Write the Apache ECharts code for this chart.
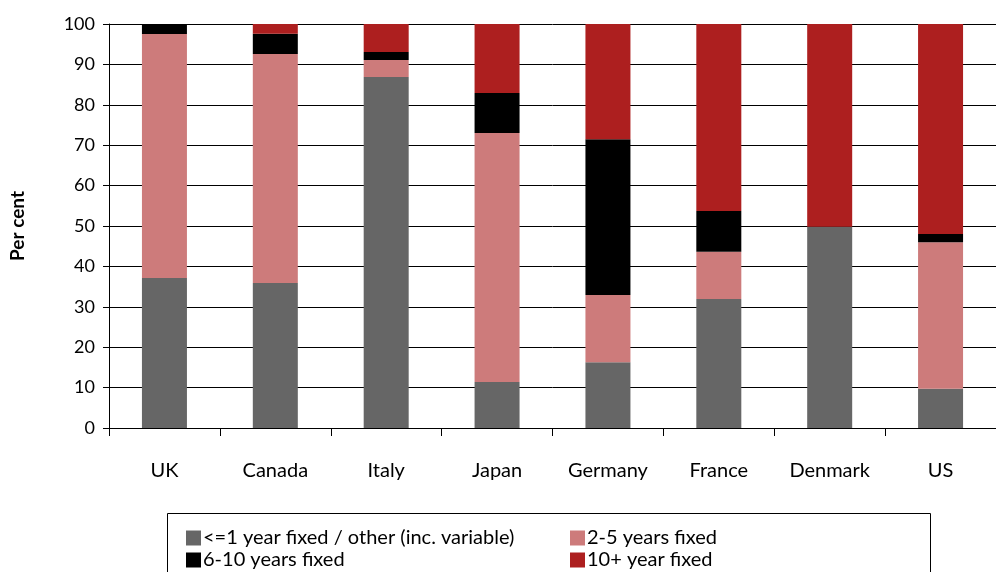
<!DOCTYPE html>
<html><head><meta charset="utf-8">
<script src="https://cdn.jsdelivr.net/npm/echarts@6/dist/echarts.min.js"></script>
<style>html,body{margin:0;padding:0;background:#fff}#c{width:996px;height:572px}</style>
</head><body><div id="c"></div>
<script>
const categories = ['UK','Canada','Italy','Japan','Germany','France','Denmark','US'];
const seriesNames = ['<=1 year fixed / other (inc. variable)','2-5 years fixed','6-10 years fixed','10+ year fixed'];
const shortTerm = [37.1, 35.9, 86.9, 11.4, 16.3, 31.9, 49.8, 9.7];
const twoToFive = [60.4, 56.7, 4.2, 61.6, 16.6, 11.7, 0, 36.3];
const sixToTen  = [2.5, 5.0, 2.0, 9.9, 38.6, 10.1, 0, 2.0];
const tenPlus   = [0, 2.4, 6.9, 17.1, 28.5, 46.3, 50.2, 52.0];
const yTicks = [0,10,20,30,40,50,60,70,80,90,100];
const colors = ['#666666','#CD7B7B','#000000','#AD1F1F'];
const FONT = 'Lato';

const chart = echarts.init(document.getElementById('c'));
const dataSets = [shortTerm, twoToFive, sixToTen, tenPlus];
const legendPos = [[186,528],[570,528],[186,550],[570,550]];
chart.setOption({
  animation:false,
  textStyle:{fontFamily:FONT},
  grid:{left:108,right:0,top:24,bottom:144,containLabel:false},
  xAxis:{type:'category',data:categories,boundaryGap:true,
    axisLine:{show:true,lineStyle:{color:'#000',width:1}},
    axisTick:{show:true,alignWithLabel:false,length:8,lineStyle:{color:'#000'}},
    axisLabel:{color:'#000',fontSize:20,margin:33,fontFamily:FONT}},
  yAxis:{type:'value',min:0,max:100,interval:10,
    name:'Per cent',nameLocation:'middle',nameGap:82,nameRotate:90,
    nameTextStyle:{fontWeight:'bold',fontSize:19,color:'#000',fontFamily:FONT},
    axisLine:{show:true,lineStyle:{color:'#000',width:1}},
    axisTick:{show:true,length:6,lineStyle:{color:'#000'}},
    axisLabel:{color:'#000',fontSize:18,margin:14,fontFamily:FONT,
      formatter:v=>yTicks.includes(v)?String(v):''},
    splitLine:{show:true,lineStyle:{color:'#000',width:1}}},
  legend: seriesNames.map((n,i)=>({data:[n],orient:'horizontal',left:legendPos[i][0],top:legendPos[i][1],
      padding:0,itemWidth:15,itemHeight:15,icon:'rect',
      textStyle:{fontSize:20,lineHeight:20,color:'#000',fontFamily:FONT,padding:[0,0,0,-3]}})),
  graphic:[{type:'rect',shape:{x:167.5,y:513.5,width:763,height:80},style:{fill:'none',stroke:'#000',lineWidth:1},z:-1}],
  series: dataSets.map((d,i)=>({name:seriesNames[i],type:'bar',stack:'all',data:d,barWidth:45,
    itemStyle:{color:colors[i]}}))
});
</script></body></html>
